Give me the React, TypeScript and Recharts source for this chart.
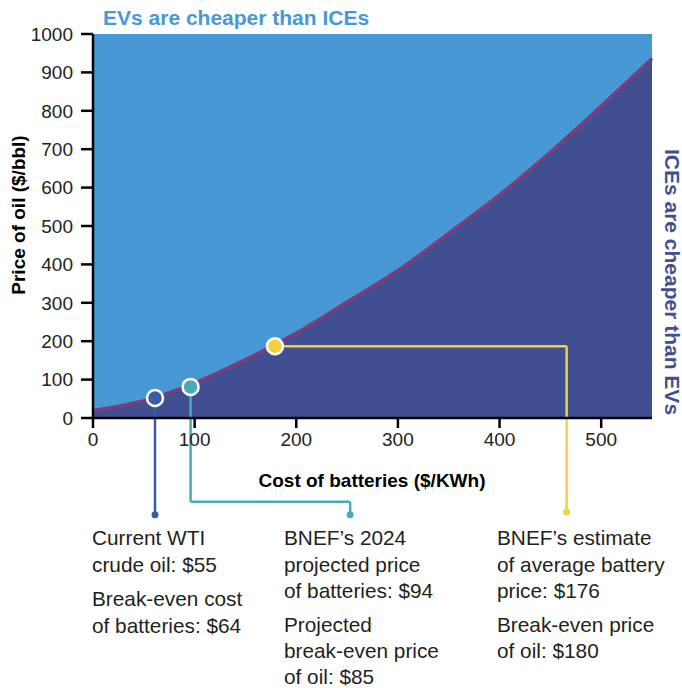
import React from 'react'
import {
  ComposedChart,
  Area,
  Scatter,
  XAxis,
  YAxis,
  CartesianGrid,
  ReferenceLine,
  ReferenceDot,
} from 'recharts'

// break-even curve
const batteryCost = [0, 50, 100, 150, 200, 250, 300, 350, 400, 450, 500, 550]
const oilPrice = [19, 45, 91, 152, 221, 302, 384, 481, 581, 692, 812, 936]

// highlighted points
const markerCost = [61, 96, 179]
const markerOil = [52, 81, 187]
const markerColors = ['#3B5BA9', '#4AA9BA', '#F0D33C']

const xTicks = [0, 100, 200, 300, 400, 500]
const yTicks = [0, 100, 200, 300, 400, 500, 600, 700, 800, 900, 1000]

// label columns under the chart
const labelCols = [
  { x: 92, lines: [['Current WTI', 545], ['crude oil: $55', 572], ['Break-even cost', 606], ['of batteries: $64', 633]] },
  { x: 284, lines: [['BNEF\u2019s 2024', 545], ['projected price', 572], ['of batteries: $94', 598], ['Projected', 632], ['break-even price', 658], ['of oil: $85', 684]] },
  { x: 497, lines: [['BNEF\u2019s estimate', 545], ['of average battery', 572], ['price: $176', 598], ['Break-even price', 632], ['of oil: $180', 658]] },
]

const W = 682
const H = 688
const M = { top: 34, right: 30, bottom: 240, left: 33 }
const Y_AXIS_W = 60
const X_AXIS_H = 30
const X_MAX = 550
const Y_MAX = 1000

// data units per pixel, used to keep leaders clear of the markers
const plotW = W - M.left - M.right - Y_AXIS_W
const plotH = H - M.top - M.bottom - X_AXIS_H
const xPerPx = X_MAX / plotW
const yPerPx = Y_MAX / plotH
const R = 8

const FONT = '"Liberation Sans", Arial, sans-serif'
const BLUE = '#4898D6'
const NAVY = '#3F4F91'

const curve = batteryCost.map((c, i) => ({ cost: c, oil: oilPrice[i] }))
const markers = markerCost.map((c, i) => ({ cost: c, oil: markerOil[i], color: markerColors[i] }))

// leader ends below the axis, in data units
const dotY = -252
const elbowY = -218
const col2X = 253
const col3X = 466

const Marker = (props: any) => (
  <circle cx={props.cx} cy={props.cy} r={R} fill={props.payload.color} stroke="#fff" strokeWidth={2.5} />
)

export default function App() {
  const gap = (R + 1) * yPerPx
  const lineProps = { strokeWidth: 2.5, ifOverflow: 'visible' as const }
  return (
    <div style={{ position: 'absolute', left: 0, top: 0, width: W, height: H, background: '#fff' }}>
      <ComposedChart width={W} height={H} data={curve} margin={M}>
        <CartesianGrid fill={BLUE} fillOpacity={1} horizontal={false} vertical={false} stroke="none" />
        <XAxis
          dataKey="cost"
          type="number"
          domain={[0, X_MAX]}
          ticks={xTicks}
          height={X_AXIS_H}
          tickSize={10}
          tickMargin={5}
          axisLine={{ stroke: '#000', strokeWidth: 2.5 }}
          tickLine={{ stroke: '#000', strokeWidth: 2.5 }}
          tick={{ fill: '#222', fontSize: 19, fontFamily: FONT }}
        />
        <YAxis
          type="number"
          domain={[0, Y_MAX]}
          ticks={yTicks}
          width={Y_AXIS_W}
          tickSize={12}
          tickMargin={8}
          axisLine={{ stroke: '#000', strokeWidth: 2.5 }}
          tickLine={{ stroke: '#000', strokeWidth: 2.5 }}
          tick={{ fill: '#222', fontSize: 19, fontFamily: FONT }}
        />
        <Area
          type="monotone"
          dataKey="oil"
          fill={NAVY}
          fillOpacity={1}
          stroke="#7B3D7C"
          strokeWidth={3.5}
          isAnimationActive={false}
        />

        {/* leaders */}
        <ReferenceLine
          segment={[{ x: markerCost[0], y: markerOil[0] - gap }, { x: markerCost[0], y: dotY }]}
          stroke={markerColors[0]}
          {...lineProps}
        />
        <ReferenceLine
          segment={[{ x: markerCost[1], y: markerOil[1] - gap }, { x: markerCost[1], y: elbowY }]}
          stroke={markerColors[1]}
          {...lineProps}
        />
        <ReferenceLine
          segment={[{ x: markerCost[1], y: elbowY }, { x: col2X, y: elbowY }]}
          stroke={markerColors[1]}
          {...lineProps}
        />
        <ReferenceLine
          segment={[{ x: col2X, y: elbowY }, { x: col2X, y: dotY }]}
          stroke={markerColors[1]}
          {...lineProps}
        />
        <ReferenceLine
          segment={[{ x: markerCost[2] + (R + 1) * xPerPx, y: markerOil[2] }, { x: col3X, y: markerOil[2] }]}
          stroke={markerColors[2]}
          {...lineProps}
        />
        <ReferenceLine
          segment={[{ x: col3X, y: markerOil[2] }, { x: col3X, y: dotY + 7 }]}
          stroke={markerColors[2]}
          {...lineProps}
        />
        <ReferenceDot x={markerCost[0]} y={dotY} r={3.5} fill={markerColors[0]} stroke="none" ifOverflow="visible" />
        <ReferenceDot x={col2X} y={dotY} r={3.5} fill={markerColors[1]} stroke="none" ifOverflow="visible" />
        <ReferenceDot x={col3X} y={dotY + 7} r={3.5} fill={markerColors[2]} stroke="none" ifOverflow="visible" />

        <Scatter data={markers} dataKey="oil" shape={Marker} isAnimationActive={false} />
      </ComposedChart>

      <svg
        width={W}
        height={H}
        style={{ position: 'absolute', left: 0, top: 0, pointerEvents: 'none' }}
        fontFamily={FONT}
      >
        <text x={103} y={25} fontSize={21} fontWeight="bold" fill={BLUE}>
          EVs are cheaper than ICEs
        </text>
        <text
          x={18}
          y={215}
          transform="rotate(-90, 18, 215)"
          textAnchor="middle"
          dominantBaseline="central"
          fontSize={19}
          fontWeight="bold"
          fill="#000"
        >
          Price of oil ($/bbl)
        </text>
        <text x={372} y={487} textAnchor="middle" fontSize={19} fontWeight="bold" fill="#000">
          Cost of batteries ($/KWh)
        </text>
        <text
          x={672}
          y={282}
          transform="rotate(90, 672, 282)"
          textAnchor="middle"
          dominantBaseline="central"
          fontSize={21}
          fontWeight="bold"
          fill={NAVY}
        >
          ICEs are cheaper than EVs
        </text>
        {labelCols.map((col, ci) =>
          col.lines.map(([t, y], li) => (
            <text key={ci + '-' + li} x={col.x} y={y as number} fontSize={20.8} fill="#231F20">
              {t}
            </text>
          ))
        )}
      </svg>
    </div>
  )
}
